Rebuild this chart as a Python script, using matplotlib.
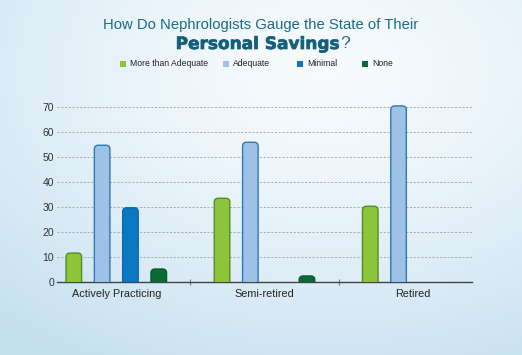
import numpy as np
import matplotlib
matplotlib.use("Agg")
import matplotlib.pyplot as plt
import matplotlib.patheffects as pe
from matplotlib.patches import FancyBboxPatch, Rectangle

categories = ["Actively Practicing", "Semi-retired", "Retired"]
series_names = ["More than Adequate", "Adequate", "Minimal", "None"]
more_than_adequate = [11.5, 33.5, 30.3]
adequate = [54.8, 56.0, 70.6]
minimal = [29.7, 0, 0]
none = [5.1, 2.3, 0]
yticks = [0, 10, 20, 30, 40, 50, 60, 70]

values = [more_than_adequate, adequate, minimal, none]
face_colors = ["#8cc43c", "#9dc2e6", "#0a77c2", "#0a6a36"]
edge_colors = ["#4f8f22", "#2f78b8", "#0a6aae", "#08592c"]

sans = ["Liberation Sans", "DejaVu Sans"]

W, H = 522, 355
fig = plt.figure(figsize=(W / 100, H / 100), dpi=100)

# background gradient
bg = fig.add_axes([0, 0, 1, 1], zorder=-10)
yy, xx = np.mgrid[0:1:200j, 0:1:300j]
d = np.sqrt(((xx - 0.62) / 0.95) ** 2 + ((yy - 0.2) / 0.95) ** 2)
t = np.clip(d, 0, 1) ** 1.4
c_light = np.array([0.97, 0.985, 0.995])
c_dark = np.array([0.77, 0.875, 0.94])
img = c_light[None, None, :] * (1 - t[..., None]) + c_dark[None, None, :] * t[..., None]
bg.imshow(img, aspect="auto", extent=[0, 1, 1, 0])
bg.set_axis_off()

ax = fig.add_axes([57 / W, 1 - 281.7 / H, (472 - 57) / W, 72 * 2.49 / H])
ax.patch.set_alpha(0)

x = np.arange(len(categories))
slot = 0.191
bw = 0.105
xlim = (-0.40, 2.40)
ylim = (0, 72)
ax.set_xlim(*xlim)
ax.set_ylim(*ylim)

ax_w_px = 415.0
ax_h_px = 72 * 2.49
x_per_px = (xlim[1] - xlim[0]) / ax_w_px
y_per_px = (ylim[1] - ylim[0]) / ax_h_px
rad_px = 4.0
for i, (vals, fc, ec) in enumerate(zip(values, face_colors, edge_colors)):
    offs = (i - 1.5) * slot
    bars = ax.bar(x + offs, vals, bw, color=fc, alpha=0)
    for rect, v in zip(bars.patches, vals):
        if v <= 0:
            continue
        x0 = rect.get_x()
        w = rect.get_width()
        r = rad_px * x_per_px
        p = FancyBboxPatch((x0, -3), w, v + 3,
                           boxstyle=f"round,pad=0,rounding_size={r}",
                           mutation_aspect=y_per_px / x_per_px,
                           facecolor=fc, edgecolor=ec, linewidth=1.0,
                           zorder=3, clip_on=True)
        ax.add_patch(p)

ax.set_yticks(yticks)
ax.set_yticklabels([str(v) for v in yticks], fontsize=7.5, color="#333333",
                   family=sans)
ax.yaxis.grid(True, linestyle=(0, (2.5, 2)), color="#a0a0a0", linewidth=0.6)
ax.set_axisbelow(True)
ax.tick_params(axis="y", length=0, pad=2)
ax.set_xticks(x)
ax.set_xticklabels(categories, fontsize=7.8, color="#222222", family=sans)
ax.tick_params(axis="x", which="major", length=0, pad=5)
ax.set_xticks([0.5, 1.5], minor=True)
ax.tick_params(axis="x", which="minor", length=5, direction="inout",
               color="#777777", width=0.8)
for s in ["top", "right", "left"]:
    ax.spines[s].set_visible(False)
ax.spines["bottom"].set_color("#444444")
ax.spines["bottom"].set_linewidth(1.0)

# title
fig.text(261 / W, 1 - 25 / H, "How Do Nephrologists Gauge the State of Their",
         ha="center", va="center", fontsize=10.7, color="#1d6b86", family=sans)
split = 339 / W
fig.text(split, 1 - 44 / H, "Personal Savings", ha="right", va="center",
         fontsize=12.2, fontweight="bold", color="#155f7a",
         family="DejaVu Sans",
         path_effects=[pe.withStroke(linewidth=0.5, foreground="#155f7a")])
fig.text(split + 1.5 / W, 1 - 43.5 / H, "?", ha="left", va="center",
         fontsize=12.5, color="#1d6b86", family=sans)

# legend
leg_x = [120, 223, 297, 362]
leg_y = 64
for name, fc, lx in zip(series_names, face_colors, leg_x):
    fig.patches.append(Rectangle((lx / W, 1 - (leg_y + 3) / H), 6 / W, 6 / H,
                                 transform=fig.transFigure, facecolor=fc,
                                 edgecolor="none"))
    fig.text((lx + 10) / W, 1 - leg_y / H, name, ha="left", va="center",
             fontsize=6.2, color="#222222", family=sans)

fig.savefig("out.png", dpi=100)
